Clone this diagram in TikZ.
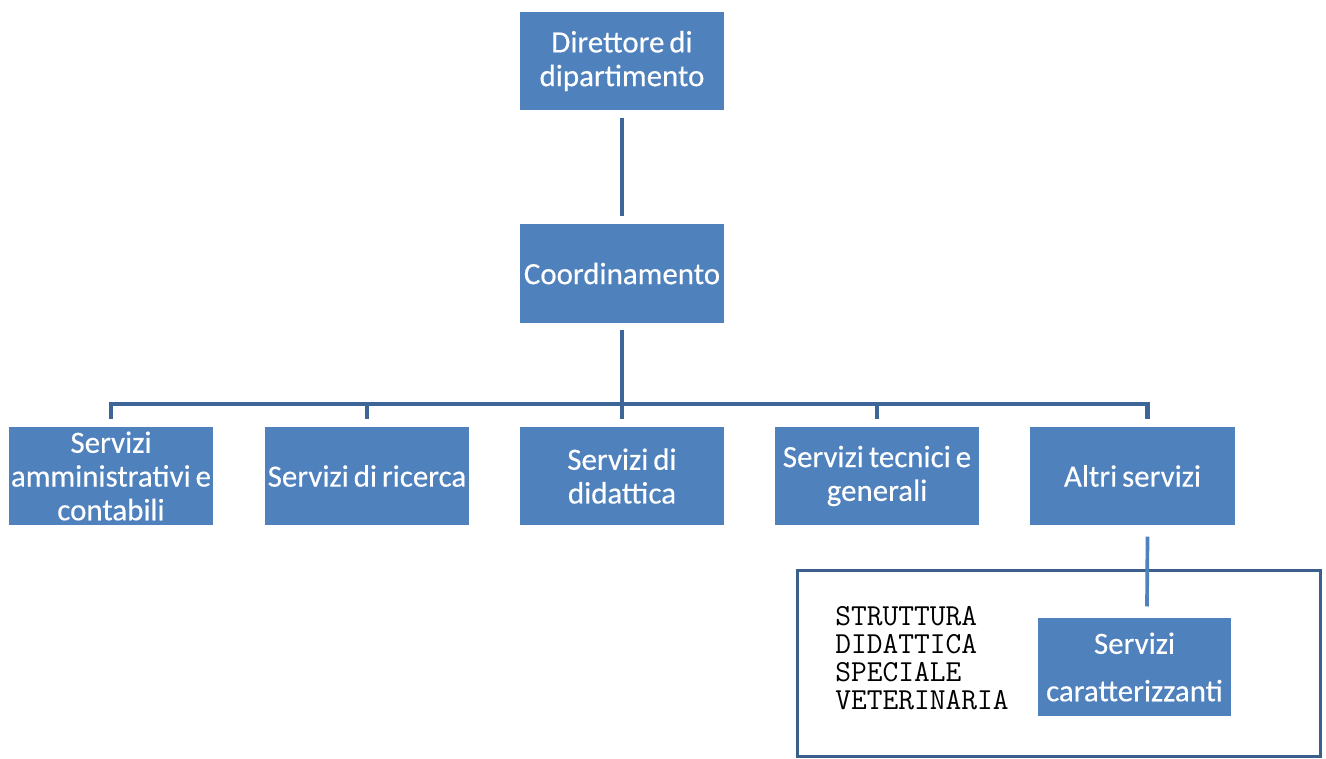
\documentclass[tikz,border=0pt]{standalone}
\usepackage{fontspec}
\setmainfont{Carlito}[FakeBold=0.3]
\usepackage{tikz}
\usetikzlibrary{positioning,calc}
\definecolor{boxblue}{HTML}{4F81BD}
\definecolor{linkblue}{HTML}{3E6598}
\definecolor{framblue}{HTML}{3A5F8C}
\newcommand\tightspace{\spaceskip=2.8pt plus 1pt\relax}

\tikzset{
  unitbox/.style={rectangle, fill=boxblue, draw=white, line width=0.6pt,
    text=white, minimum width=4.12cm, minimum height=2cm, align=center,
    inner xsep=0pt, inner ysep=1pt,
    font=\fontsize{17.6}{19.2}\selectfont\tightspace},
  link/.style={draw=linkblue, line width=2.3pt},
}

\begin{document}
\begin{tikzpicture}[x=0.02cm,y=-0.02cm]
  \useasboundingbox (0,0) rectangle (1326,758);
  % top of the chart
  \node[unitbox] (dir) at (622,61) {Direttore di\\dipartimento};
  \node[unitbox] (coord) at (622,273.5) {Coordinamento};
  % second row
  \node[unitbox] (amm) at (111,476) {Servizi\\amministrativi e\\contabili};
  \node[unitbox] (ric) at (367,476) {Servizi di ricerca};
  \node[unitbox] (did) at (622,476) {Servizi di\\didattica};
  \node[unitbox] (tec) at (877,476) {Servizi tecnici e\\generali};
  \node[unitbox] (altri) at (1132.5,476) {Altri servizi};
  \coordinate (bus) at (0,404);
  % links
  \draw[link] ([yshift=-0.12cm]dir.south) -- ([yshift=0.14cm]coord.north);
  \draw[link] ([yshift=-0.12cm]coord.south) -- (coord |- bus);
  \draw[link] ([yshift=0.12cm]amm.north) |- ([xshift=0.3cm]altri.north |- bus)
    -- ([xshift=0.3cm,yshift=0.12cm]altri.north);
  \foreach \n in {ric,did,tec}
    \draw[link] (\n |- bus) -- ([yshift=0.12cm]\n.north);
  % frame of the special structure
  \draw[framblue, line width=1.7pt] (797,570) rectangle (1320,756);
  \node[unitbox, minimum width=3.9cm, font=\fontsize{17.6}{27}\selectfont]
    (car) at (1134.5,667) {Servizi\\caratterizzanti};
  \draw[boxblue, line width=2.1pt] ([xshift=0.3cm,yshift=-0.2cm]altri.south) -- ([xshift=0.25cm,yshift=0.2cm]car.north);
  \node[anchor=north west, align=left, inner sep=0pt,
    font=\ttfamily\fontsize{17.4}{15.9}\selectfont] (strutt) at (835,606)
    {STRUTTURA\\DIDATTICA\\SPECIALE\\VETERINARIA};
\end{tikzpicture}
\end{document}
